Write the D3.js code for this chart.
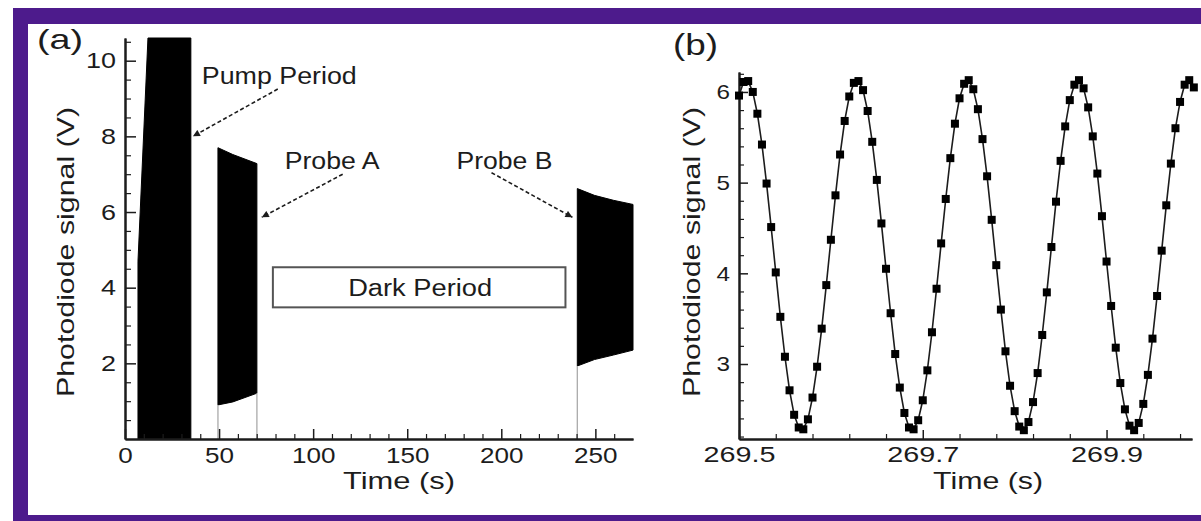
<!DOCTYPE html>
<html><head><meta charset="utf-8">
<script src="https://cdn.jsdelivr.net/npm/d3@7"></script>
<style>
body{margin:0;background:#fff}
svg{display:block}
text{font-family:"Liberation Sans",Arial,Helvetica,sans-serif;fill:#1c1c1c}
</style>
</head><body>
<svg id="c" width="1201" height="521"></svg>
<script>
// ---------- Panel (a) data: envelopes of the dense photodiode trace ----------
const pumpT      = [6.9, 12.2, 35];
const pumpUpper  = [4.7, 10.6, 10.6];
const pumpLower  = [0, 0, 0];

const probeAT     = [49.4, 57.3, 70.1];
const probeAUpper = [7.70, 7.52, 7.28];
const probeALower = [0.90, 0.98, 1.21];

const probeBT     = [240.4, 249.5, 259.6, 270];
const probeBUpper = [6.62, 6.44, 6.31, 6.20];
const probeBLower = [1.93, 2.10, 2.22, 2.35];

const xTicksA      = [0, 50, 100, 150, 200, 250];
const xMinorTicksA = [10,20,30,40,60,70,80,90,110,120,130,140,160,170,180,190,210,220,230,240,260];
const yTicksA      = [2, 4, 6, 8, 10];
const yMinorTicksA = [0.5,1,1.5,2.5,3,3.5,4.5,5,5.5,6.5,7,7.5,8.5,9,9.5,10.5];

const darkBox = {t0: 78.6, t1: 234.1, v0: 3.48, v1: 4.54, label: "Dark Period"};
const annotations = [
  {label: "Pump Period", tx: 82.0,  ty: 9.39, fromT: 81.2,  fromV: 9.25, toT: 36.1,  toV: 8.0,  w: 155},
  {label: "Probe A",     tx: 110.1, ty: 7.15, fromT: 115.7, fromV: 7.0,  toT: 72.7,  toV: 5.86, w: 95},
  {label: "Probe B",     tx: 201.7, ty: 7.15, fromT: 194.8, fromV: 7.04, toT: 237.8, toV: 5.86, w: 96}
];

// ---------- Panel (b) data: sampled signal ----------
const timesB = [269.500,269.505,269.510,269.515,269.520,269.525,269.530,269.535,269.540,269.545,
  269.550,269.555,269.560,269.565,269.570,269.575,269.580,269.585,269.590,269.595,
  269.600,269.605,269.610,269.615,269.620,269.625,269.630,269.635,269.640,269.645,
  269.650,269.655,269.660,269.665,269.670,269.675,269.680,269.685,269.690,269.695,
  269.700,269.705,269.710,269.715,269.720,269.725,269.730,269.735,269.740,269.745,
  269.750,269.755,269.760,269.765,269.770,269.775,269.780,269.785,269.790,269.795,
  269.800,269.805,269.810,269.815,269.820,269.825,269.830,269.835,269.840,269.845,
  269.850,269.855,269.860,269.865,269.870,269.875,269.880,269.885,269.890,269.895,
  269.900,269.905,269.910,269.915,269.920,269.925,269.930,269.935,269.940,269.945,
  269.950,269.955,269.960,269.965,269.970,269.975,269.980,269.985,269.990,269.995];
const valuesB = [5.96,6.11,6.12,6.00,5.76,5.42,4.99,4.51,4.01,3.52,
  3.08,2.71,2.44,2.30,2.28,2.39,2.63,2.97,3.39,3.87,
  4.37,4.86,5.31,5.68,5.95,6.10,6.12,6.02,5.79,5.45,
  5.03,4.55,4.05,3.56,3.11,2.74,2.46,2.30,2.28,2.38,
  2.60,2.93,3.35,3.83,4.33,4.82,5.27,5.65,5.93,6.09,
  6.13,6.03,5.81,5.48,5.07,4.59,4.09,3.60,3.14,2.76,
  2.48,2.31,2.27,2.36,2.58,2.90,3.32,3.79,4.29,4.79,
  5.24,5.62,5.91,6.08,6.13,6.04,5.83,5.51,5.10,4.63,
  4.13,3.64,3.18,2.79,2.50,2.32,2.27,2.35,2.56,2.88,
  3.28,3.75,4.25,4.75,5.21,5.60,5.89,6.08,6.13,6.05];

const xTicksB      = [269.5, 269.7, 269.9];
const xMinorTicksB = [269.54,269.58,269.62,269.66,269.74,269.78,269.82,269.86,269.94,269.98];
const yTicksB      = [3, 4, 5, 6];
const yMinorTicksB = [2.2,2.4,2.6,2.8,3.2,3.4,3.6,3.8,4.2,4.4,4.6,4.8,5.2,5.4,5.6,5.8,6.2];

// ---------- drawing ----------
const svg = d3.select("#c");
const PURPLE = "#4d1b8c";
const INK = "#1c1c1c";

svg.append("rect").attr("x",13).attr("y",8).attr("width",1188).attr("height",16).attr("fill",PURPLE);
svg.append("rect").attr("x",13).attr("y",8).attr("width",15).attr("height",513).attr("fill",PURPLE);
svg.append("rect").attr("x",13).attr("y",515).attr("width",1188).attr("height",6).attr("fill",PURPLE);

svg.append("defs").append("marker")
  .attr("id","ah").attr("viewBox","0 0 10 10").attr("refX",10).attr("refY",5)
  .attr("markerWidth",9).attr("markerHeight",7).attr("markerUnits","userSpaceOnUse")
  .attr("orient","auto")
  .append("path").attr("d","M0,0 L10,5 L0,10 Z").attr("fill",INK);

function labelWidth(s, digitW, dotW){
  let w = 0; for (const ch of s) w += (ch === "." ? dotW : digitW); return w;
}
function styleAxis(g, fontSize, digitW, dotW, lineW){
  g.attr("font-family",null).attr("font-size",null);
  g.select(".domain").attr("stroke",INK).attr("stroke-width",2);
  g.selectAll(".tick line").attr("stroke",INK).attr("stroke-width",lineW);
  g.selectAll(".tick text").attr("fill",INK).style("font-size",fontSize+"px")
    .each(function(){
      const s = d3.select(this).text();
      if (s) d3.select(this).attr("textLength", labelWidth(s,digitW,dotW)).attr("lengthAdjust","spacingAndGlyphs");
    });
}

// ----- Panel (a)
const xA = d3.scaleLinear().domain([0,270]).range([125,633]);
const yA = d3.scaleLinear().domain([0,10.6]).range([439,38]);
const gA = svg.append("g");

const blocks = [
  {t: pumpT, up: pumpUpper, lo: pumpLower},
  {t: probeAT, up: probeAUpper, lo: probeALower},
  {t: probeBT, up: probeBUpper, lo: probeBLower}
];
const areaA = d3.area().x(d=>xA(d.t)).y0(d=>yA(d.lo)).y1(d=>yA(d.up));
blocks.forEach(b=>{
  const pts = b.t.map((t,i)=>({t, up:b.up[i], lo:b.lo[i]}));
  gA.append("path").attr("d",areaA(pts)).attr("fill","#000").attr("stroke","#000").attr("stroke-width",1);
});
const risers = [
  {t: probeAT[0], v: probeALower[0]},
  {t: probeAT[probeAT.length-1], v: probeALower[probeALower.length-1]},
  {t: probeBT[0], v: probeBLower[0]}
];
gA.selectAll("line.riser").data(risers).join("line")
  .attr("x1",d=>xA(d.t)).attr("x2",d=>xA(d.t)).attr("y1",yA(0)).attr("y2",d=>yA(d.v))
  .attr("stroke","#aaa").attr("stroke-width",1.3);

gA.append("g").attr("transform",`translate(0,${yA(0)})`)
  .call(d3.axisBottom(xA).tickValues(xMinorTicksA).tickSizeInner(-5).tickSizeOuter(0).tickFormat(""))
  .call(g=>styleAxis(g,22,14.5,7,1.2));
gA.append("g").attr("transform",`translate(0,${yA(0)})`)
  .call(d3.axisBottom(xA).tickValues(xTicksA).tickSizeInner(-10).tickSizeOuter(0).tickPadding(8).tickFormat(d3.format("d")))
  .call(g=>styleAxis(g,22,14.5,7,1.5));
gA.append("g").attr("transform",`translate(${xA(0)},0)`)
  .call(d3.axisLeft(yA).tickValues(yMinorTicksA).tickSizeInner(-6).tickSizeOuter(0).tickFormat(""))
  .call(g=>styleAxis(g,22,15,7,1.2));
gA.append("g").attr("transform",`translate(${xA(0)},0)`)
  .call(d3.axisLeft(yA).tickValues(yTicksA).tickSizeInner(-11).tickSizeOuter(0).tickPadding(9).tickFormat(d3.format("d")))
  .call(g=>styleAxis(g,22,15,7,1.5));

gA.append("rect").attr("x",xA(darkBox.t0)).attr("y",yA(darkBox.v1))
  .attr("width",xA(darkBox.t1)-xA(darkBox.t0)).attr("height",yA(darkBox.v0)-yA(darkBox.v1))
  .attr("fill","none").attr("stroke","#555").attr("stroke-width",2);
gA.append("text").attr("x",(xA(darkBox.t0)+xA(darkBox.t1))/2+1).attr("y",296)
  .attr("text-anchor","middle").style("font-size","23px")
  .attr("textLength",144).attr("lengthAdjust","spacingAndGlyphs").text(darkBox.label);

annotations.forEach(a=>{
  gA.append("line").attr("x1",xA(a.fromT)).attr("y1",yA(a.fromV)).attr("x2",xA(a.toT)).attr("y2",yA(a.toV))
    .attr("stroke",INK).attr("stroke-width",1.6).attr("stroke-dasharray","4,2.5").attr("marker-end","url(#ah)");
  gA.append("text").attr("x",xA(a.tx)).attr("y",yA(a.ty)).attr("text-anchor","middle")
    .style("font-size","23px").attr("textLength",a.w).attr("lengthAdjust","spacingAndGlyphs").text(a.label);
});

svg.append("text").attr("x",37).attr("y",49).style("font-size","28px")
  .attr("textLength",46).attr("lengthAdjust","spacingAndGlyphs").text("(a)");
svg.append("text").attr("x",399).attr("y",489).attr("text-anchor","middle").style("font-size","24px")
  .attr("textLength",112).attr("lengthAdjust","spacingAndGlyphs").text("Time (s)");
svg.append("text").attr("transform","translate(65,252) rotate(-90)").attr("dy","0.36em")
  .attr("text-anchor","middle").style("font-size","24px")
  .attr("textLength",290).attr("lengthAdjust","spacingAndGlyphs").text("Photodiode signal (V)");

// ----- Panel (b)
const xB = d3.scaleLinear().domain([269.5,269.993]).range([739,1192]);
const yB = d3.scaleLinear().domain([2.173,6.22]).range([439,72]);
const gB = svg.append("g");

gB.append("g").attr("transform",`translate(0,${yB.range()[0]})`)
  .call(d3.axisBottom(xB).tickValues(xMinorTicksB).tickSizeInner(-5).tickSizeOuter(0).tickFormat(""))
  .call(g=>styleAxis(g,22,16,8,1.2));
gB.append("g").attr("transform",`translate(0,${yB.range()[0]})`)
  .call(d3.axisBottom(xB).tickValues(xTicksB).tickSizeInner(-9).tickSizeOuter(0).tickPadding(7).tickFormat(d3.format(".1f")))
  .call(g=>styleAxis(g,22,16,8,1.5));
gB.append("g").attr("transform",`translate(${xB.range()[0]},0)`)
  .call(d3.axisLeft(yB).tickValues(yMinorTicksB).tickSizeInner(-5).tickSizeOuter(0).tickFormat(""))
  .call(g=>styleAxis(g,21,13.5,7,1.2));
gB.append("g").attr("transform",`translate(${xB.range()[0]},0)`)
  .call(d3.axisLeft(yB).tickValues(yTicksB).tickSizeInner(-9).tickSizeOuter(0).tickPadding(9).tickFormat(d3.format("d")))
  .call(g=>styleAxis(g,21,13.5,7,1.5));

const ptsB = timesB.map((t,i)=>({t, v: valuesB[i]}));
gB.append("path").attr("d", d3.line().x(d=>xB(d.t)).y(d=>yB(d.v))(ptsB))
  .attr("fill","none").attr("stroke",INK).attr("stroke-width",1.6);
gB.selectAll("rect.m").data(ptsB).join("rect")
  .attr("x",d=>xB(d.t)-4).attr("y",d=>yB(d.v)-4).attr("width",8).attr("height",8).attr("fill","#000");

svg.append("text").attr("x",673).attr("y",55).style("font-size","30px")
  .attr("textLength",45).attr("lengthAdjust","spacingAndGlyphs").text("(b)");
svg.append("text").attr("x",988).attr("y",489).attr("text-anchor","middle").style("font-size","24px")
  .attr("textLength",110).attr("lengthAdjust","spacingAndGlyphs").text("Time (s)");
svg.append("text").attr("transform","translate(691,252) rotate(-90)").attr("dy","0.36em")
  .attr("text-anchor","middle").style("font-size","24px")
  .attr("textLength",290).attr("lengthAdjust","spacingAndGlyphs").text("Photodiode signal (V)");
</script>
</body></html>
